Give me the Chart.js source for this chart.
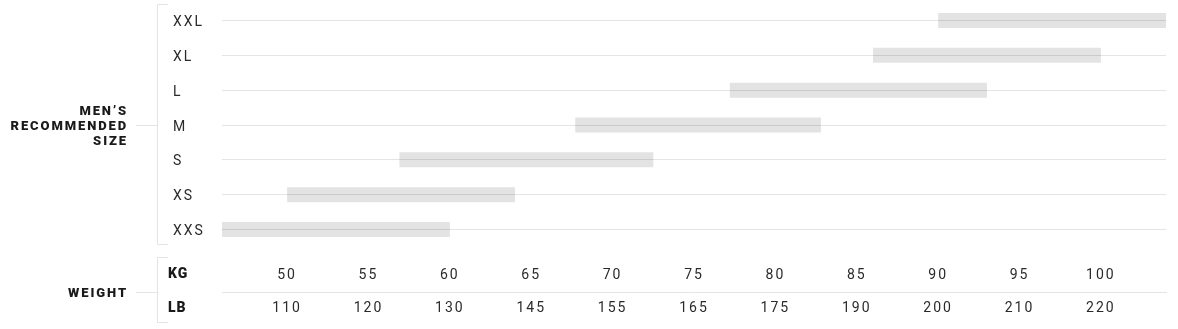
<!DOCTYPE html>
<html>
<head>
<meta charset="utf-8">
<script src="https://cdn.jsdelivr.net/npm/chart.js@4"></script>
<style>
  html, body { margin: 0; padding: 0; background: #fff; }
  #wrap { width: 1178px; height: 329px; position: relative; }
</style>
</head>
<body>
<div id="wrap"><canvas id="chart"></canvas></div>
<script>
// size chart data (kg)
const sizes = ["XXL", "XL", "L", "M", "S", "XS", "XXS"];
const weightFrom = [90, 86, 77.2, 67.7, 56.9, 50, 46];
const weightTo = [104, 100, 93, 82.8, 72.5, 64, 60];
const kgTicks = [50, 55, 60, 65, 70, 75, 80, 85, 90, 95, 100];
const lbTicks = [110, 120, 130, 145, 155, 165, 175, 190, 200, 210, 220];
const sizeTitle = ["MEN\u2019S", "RECOMMENDED", "SIZE"];
const weightTitle = "WEIGHT";

const lineColor = "#e4e4e4";
const textColor = "#2a2a2a";

const decorations = {
    id: "decorations",
    beforeDraw(chart) {
        chart.ctx.letterSpacing = "2px";
    },
    afterDraw(chart) {
        const ctx = chart.ctx;
        const x2 = chart.scales.x2;
        ctx.save();
        ctx.strokeStyle = lineColor;
        ctx.lineWidth = 1;

        // bracket round the size rows
        const bx = 157.5;
        ctx.beginPath();
        ctx.moveTo(168, 4.5);
        ctx.lineTo(bx, 4.5);
        ctx.lineTo(bx, 244.5);
        ctx.lineTo(168, 244.5);
        const midY = 125.5;
        ctx.moveTo(136, midY);
        ctx.lineTo(bx, midY);
        ctx.stroke();

        // bracket round the weight rows
        const wy = Math.round(x2.top) + 0.5;
        ctx.beginPath();
        ctx.moveTo(168, 257.5);
        ctx.lineTo(bx, 257.5);
        ctx.lineTo(bx, 322.5);
        ctx.lineTo(168, 322.5);
        ctx.moveTo(136, wy);
        ctx.lineTo(bx, wy);
        ctx.stroke();

        // titles
        ctx.fillStyle = "#1a1a1a";
        ctx.font = "900 13px Roboto";
        ctx.letterSpacing = "1.9px";
        ctx.textAlign = "right";
        ctx.textBaseline = "middle";
        sizeTitle.forEach((t, i) => {
            ctx.fillText(t, 128, midY - 14 + i * 15);
        });
        ctx.fillText(weightTitle, 128, wy + 1);

        ctx.textAlign = "left";
        ctx.font = "900 14px Roboto";
        ctx.letterSpacing = "1px";
        ctx.fillText("KG", 168, 274);
        ctx.fillText("LB", 168, 308);
        ctx.restore();
    }
};

const ctx = document.getElementById("chart").getContext("2d");
new Chart(ctx, {
    type: "bar",
    data: {
        labels: sizes,
        datasets: [{
            data: sizes.map((s, i) => [weightFrom[i], weightTo[i]]),
            backgroundColor: "rgba(0,0,0,0.11)",
            borderWidth: 0,
            borderSkipped: false,
            categoryPercentage: 1,
            barPercentage: 0.43
        }]
    },
    options: {
        indexAxis: "y",
        responsive: true,
        maintainAspectRatio: false,
        animation: false,
        layout: { padding: { left: 173, right: 12, top: 3, bottom: 0 } },
        plugins: {
            legend: { display: false },
            tooltip: { enabled: false }
        },
        scales: {
            y: {
                grid: { offset: false, color: lineColor, drawTicks: false },
                border: { display: false },
                ticks: {
                    crossAlign: "far",
                    padding: 0,
                    labelOffset: 2,
                    color: textColor,
                    font: { family: "Roboto", size: 14 }
                },
                afterFit(scale) {
                    scale.width = 49;
                    scale.paddingTop = 0;
                    scale.paddingBottom = 0;
                }
            },
            x: {
                position: "bottom",
                min: 46,
                max: 104,
                grid: { display: false, drawTicks: false },
                border: { display: false },
                ticks: {
                    padding: 20,
                    color: textColor,
                    font: { family: "Roboto", size: 14 }
                },
                afterBuildTicks(scale) { scale.ticks = kgTicks.map(v => ({ value: v })); },
                afterFit(scale) { scale.height = 45; }
            },
            x2: {
                type: "linear",
                position: "bottom",
                axis: "x",
                min: 46,
                max: 104,
                grid: { display: false, drawTicks: false },
                border: { display: true, color: lineColor },
                ticks: {
                    padding: 8,
                    color: textColor,
                    font: { family: "Roboto", size: 14 },
                    callback: (v, i) => lbTicks[i]
                },
                afterBuildTicks(scale) { scale.ticks = kgTicks.map(v => ({ value: v })); },
                afterFit(scale) { scale.height = 37; }
            }
        }
    },
    plugins: [decorations]
});
</script>
</body>
</html>
